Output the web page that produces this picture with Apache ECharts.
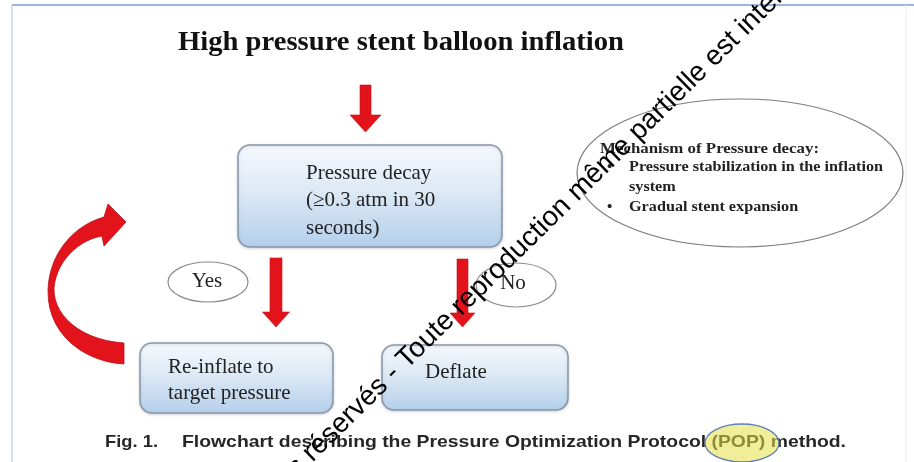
<!DOCTYPE html>
<html><head><meta charset="utf-8">
<script src="https://cdn.jsdelivr.net/npm/echarts@6/dist/echarts.min.js"></script>
<style>html,body{margin:0;padding:0;background:#fff}#c{width:914px;height:462px}</style>
</head><body><div id="c"></div>
<script>
// ---- content ----
const titleText = 'High pressure stent balloon inflation';
const decisionLines = ['Pressure decay', '(\u22650.3 atm in 30', 'seconds)'];
const yesLines = ['Re-inflate to', 'target pressure'];
const noLines = ['Deflate'];
const branchLabels = ['Yes', 'No'];
const mechanismTitle = 'Mechanism of Pressure decay:';
const mechanismItems = [['Pressure stabilization in the inflation', 'system'], ['Gradual stent expansion']];
const captionParts = ['Fig. 1.', 'Flowchart describing the Pressure Optimization Protocol (POP) method.'];
const watermarkParts = ['Tous droits ', 'r\u00e9serv\u00e9s - Toute reproduction m\u00eame partielle est interdite'];

// ---- layout ----
const SERIF = '"Liberation Serif","Times New Roman",serif';
const SANS = '"Liberation Sans",Arial,sans-serif';
const RED = '#e3131c';
const ctx = document.createElement('canvas').getContext('2d');
function measure(t, font){ ctx.font = font; return ctx.measureText(t).width; }
function txt(t, x, y, size, opts){
  opts = opts || {};
  const weight = opts.weight || 'normal';
  const fam = opts.family || SERIF;
  const el = {type:'text', x:x, y:y, z: opts.z || 10,
    style:{text:t, x:0, y:0, fontSize:size, fontFamily:fam, fontWeight:weight,
      fill: opts.fill || '#222', textAlign: opts.align || 'left', textVerticalAlign:'middle'}};
  if (opts.width){ el.scaleX = opts.width / measure(t, weight+' '+size+'px '+fam); }
  if (opts.scaleX){ el.scaleX = opts.scaleX; }
  if (opts.rotation){ el.rotation = opts.rotation; }
  return el;
}
const boxFill = {type:'linear', x:0, y:0, x2:0, y2:1, colorStops:[{offset:0,color:'#f6f9fd'},{offset:0.45,color:'#dde9f5'},{offset:1,color:'#b4cfeb'}]};
function box(x, y, w, h){
  return {type:'rect', shape:{x:x, y:y, width:w, height:h, r:12}, z:2,
    style:{fill:boxFill, stroke:'#8796aa', lineWidth:1.5, shadowBlur:3, shadowColor:'rgba(0,0,0,0.15)', shadowOffsetY:1}};
}
function downArrow(cx, top, tip, sw, hw, hh){
  const hb = tip - hh;
  return {type:'polygon', z:3, shape:{points:[[cx-sw/2,top],[cx+sw/2,top],[cx+sw/2,hb],[cx+hw/2,hb],[cx,tip],[cx-hw/2,hb],[cx-sw/2,hb]]},
    style:{fill:RED, stroke:'#c4121a', lineWidth:0.6}};
}
function ellipse(cx, cy, rx, ry, stroke){
  return {type:'ellipse', z:2, shape:{cx:cx, cy:cy, rx:rx, ry:ry}, style:{fill:'rgba(255,255,255,0.9)', stroke:stroke||'#8a8a8a', lineWidth:1.2}};
}
function cubic(p0, p1, p2, p3, n){
  const pts = [];
  for (let i=1;i<=n;i++){
    const t=i/n, u=1-t;
    pts.push([u*u*u*p0[0]+3*u*u*t*p1[0]+3*u*t*t*p2[0]+t*t*t*p3[0],
              u*u*u*p0[1]+3*u*u*t*p1[1]+3*u*t*t*p2[1]+t*t*t*p3[1]]);
  }
  return pts;
}

const els = [];
// frame
els.push({type:'line', z:1, shape:{x1:12,y1:5,x2:914,y2:5}, style:{stroke:'#7f9ccb', lineWidth:1.5}});
els.push({type:'line', z:1, shape:{x1:12,y1:5,x2:12,y2:462}, style:{stroke:'#b8c8e2', lineWidth:1.2}});
els.push({type:'line', z:1, shape:{x1:906,y1:5,x2:906,y2:462}, style:{stroke:'#eef0f4', lineWidth:1}});
// title
els.push(txt(titleText, 178, 43, 28, {weight:'bold', width:446, fill:'#111'}));
// arrows
els.push(downArrow(365.5, 85, 132, 11, 31, 17));
els.push(downArrow(276, 258, 327, 12, 27, 15));
els.push(downArrow(462.5, 259, 327, 11, 25, 14));
// decision box
els.push(box(238, 145, 264, 102));
decisionLines.forEach((t,i)=>els.push(txt(t, 306, 173 + i*27.5, 21)));
// mechanism ellipse
els.push(ellipse(740, 173, 163, 74, '#7c7c7c'));
const mFont = 'bold 15px ' + SERIF;
const mScale = 254 / measure(mechanismItems[0][0], mFont);
els.push(txt(mechanismTitle, 600, 149, 15, {weight:'bold', width:219}));
let my = 167;
mechanismItems.forEach(lines=>{
  els.push(txt('\u2022', 607, my, 15, {weight:'bold'}));
  lines.forEach(t=>{
    els.push(txt(t, 629, my, 15, {weight:'bold', scaleX:mScale}));
    my += 20;
  });
});
// curved arrow (feedback loop)
let cp = [[124,364]];
cp = cp.concat(cubic([124,364],[85,362],[47,335],[48,290],14));
cp = cp.concat(cubic([48,290],[49,255],[72,226],[104,217],14));
cp.push([108,204],[126,222],[104,246],[102,236]);
cp = cp.concat(cubic([102,236],[78,240],[56,262],[54,288],14));
cp = cp.concat(cubic([54,288],[53,315],[80,340],[124,343],14));
els.push({type:'polygon', z:3, shape:{points:cp}, style:{fill:RED, stroke:'#b50f16', lineWidth:0.8}});
// branch labels
els.push(ellipse(208, 282, 40, 20));
els.push(txt(branchLabels[0], 207, 281, 21, {align:'center'}));
els.push(ellipse(516, 285, 40, 22));
els.push(txt(branchLabels[1], 513, 283, 21, {align:'center'}));
// result boxes
els.push(box(140, 343, 193, 70));
yesLines.forEach((t,i)=>els.push(txt(t, 168, 367 + i*26, 21)));
els.push(box(382, 345, 186, 65));
noLines.forEach((t,i)=>els.push(txt(t, 425, 372 + i*26, 21)));
// caption
els.push(txt(captionParts[0], 105, 442, 17, {family:SANS, weight:'bold', width:53, fill:'#262626'}));
els.push(txt(captionParts[1], 182, 442, 17, {family:SANS, weight:'bold', width:664, fill:'#262626'}));
els.push({type:'ellipse', z:20, shape:{cx:742, cy:443, rx:37, ry:19}, style:{fill:'rgba(228,224,70,0.55)', stroke:'#5f7fb6', lineWidth:1.3}});
// watermark
const rot = 44.5 * Math.PI / 180;
els.push(txt(watermarkParts[0], 307, 457, 28, {family:SANS, align:'right', rotation:rot, fill:'#000', z:30}));
els.push(txt(watermarkParts[1], 307, 457, 28, {family:SANS, rotation:rot, fill:'#000', z:30}));

const chart = echarts.init(document.getElementById('c'), null, {renderer:'canvas'});
chart.setOption({backgroundColor:'#fff', animation:false, graphic:{elements:els}});
</script>
</body></html>
